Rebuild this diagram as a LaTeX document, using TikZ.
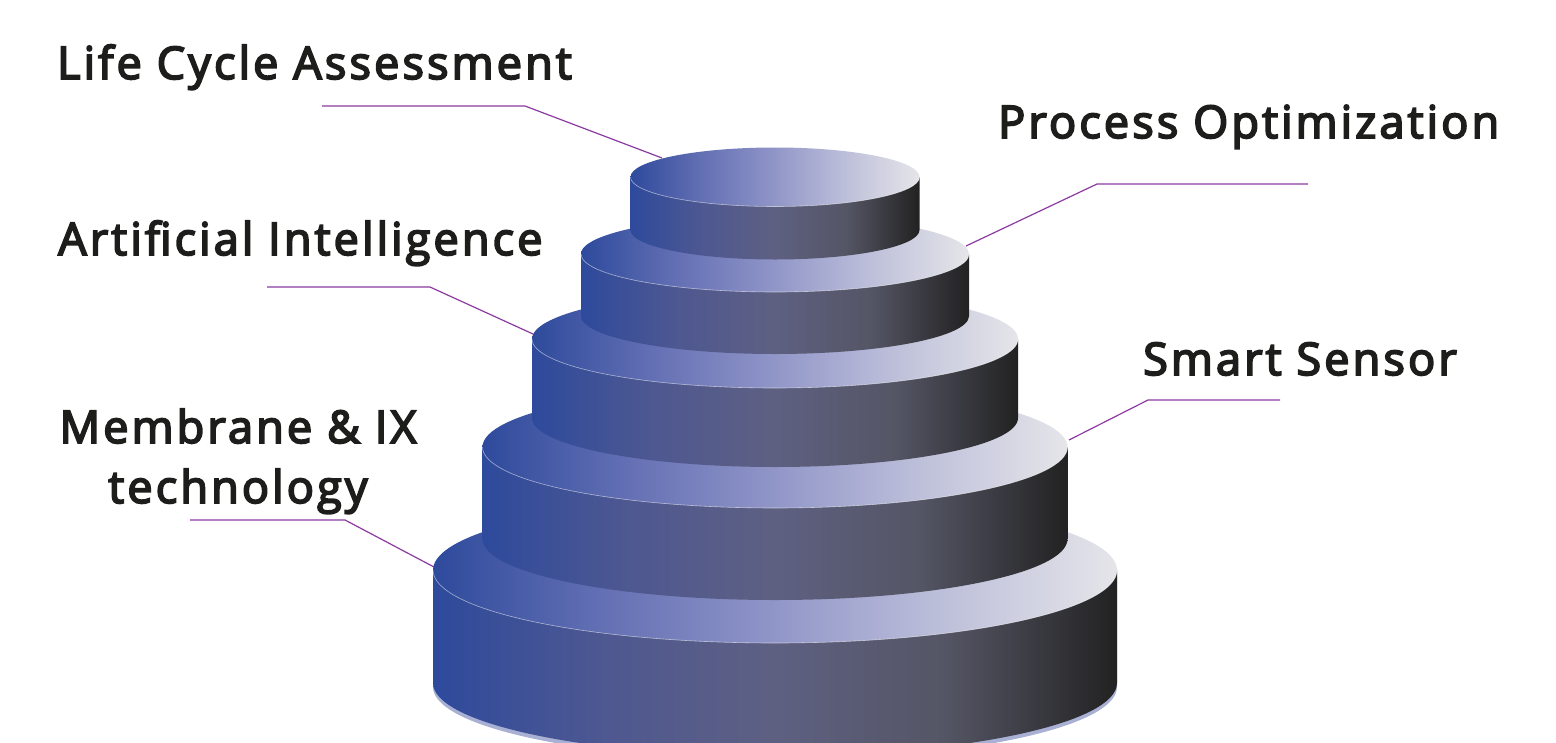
\documentclass[tikz,border=0pt]{standalone}
\usepackage{fontspec}
\newfontfamily\labelfont{Open Sans}[FakeBold=4, LetterSpace=7]
\usepackage{tikz}

\definecolor{tierblue}{RGB}{46,74,156}
\definecolor{sideA}{RGB}{78,88,145}
\definecolor{sideB}{RGB}{94,96,130}
\definecolor{sideC}{RGB}{84,85,100}
\definecolor{sideD}{RGB}{34,34,34}
\definecolor{capA}{RGB}{100,112,180}
\definecolor{capB}{RGB}{145,150,200}
\definecolor{capC}{RGB}{190,192,218}
\definecolor{capD}{RGB}{229,229,233}
\definecolor{leadercol}{RGB}{139,58,160}
\definecolor{labelcol}{RGB}{29,29,27}
\definecolor{rimcol}{RGB}{168,176,212}

\pgfdeclarehorizontalshading{tierside}{100bp}{color(0bp)=(tierblue); color(25bp)=(tierblue);
  color(37.5bp)=(sideA); color(50bp)=(sideB); color(62.5bp)=(sideC); color(75bp)=(sideD); color(100bp)=(sideD)}
\pgfdeclarehorizontalshading{tiertop}{100bp}{color(0bp)=(tierblue); color(25bp)=(tierblue);
  color(37.5bp)=(capA); color(50bp)=(capB); color(62.5bp)=(capC); color(75bp)=(capD); color(100bp)=(capD)}

\tikzset{
  lbl/.style={font=\labelfont\fontsize{45}{54}\selectfont, text=labelcol, inner sep=0pt},
  leader/.style={draw=leadercol, line width=1.2pt},
  rimline/.style={draw=white, draw opacity=.55, line width=.6pt}
}

\begin{document}
\begin{tikzpicture}[x=1pt, y=-1pt]
  \useasboundingbox (0,0) rectangle (1556,742);

  \node[lbl, anchor=base west] (lca) at (57,79) {Life Cycle Assessment};
  \node[lbl, anchor=base west] (procopt) at (998,138) {Process Optimization};
  \node[lbl, anchor=base west] (ai) at (58,255) {Artificial Intelligence};
  \node[lbl, anchor=base west] (sensor) at (1143,375) {Smart Sensor};
  \node[lbl, anchor=base] (membrane) at (238,443) {Membrane \& IX};
  \node[lbl, anchor=base] (tech) at (238,503) {technology};

  \coordinate (lca-s) at (322,106);
  \coordinate (lca-k) at (525,106);
  \coordinate (lca-e) at (662,158);
  \coordinate (po-s) at (1308,184);
  \coordinate (po-k) at (1097,184);
  \coordinate (po-e) at (966,246);
  \coordinate (ai-s) at (267,287);
  \coordinate (ai-k) at (430,287);
  \coordinate (ai-e) at (533,334);
  \coordinate (ss-s) at (1280,400);
  \coordinate (ss-k) at (1148,400);
  \coordinate (ss-e) at (1069,440);
  \coordinate (mem-s) at (190,520);
  \coordinate (mem-k) at (345,520);
  \coordinate (mem-e) at (434,567);

  \draw[leader] (lca-s) -- (lca-k) -- (lca-e);
  \draw[leader] (po-s) -- (po-k) -- (po-e);
  \draw[leader] (ai-s) -- (ai-k) -- (ai-e);
  \draw[leader] (ss-s) -- (ss-k) -- (ss-e);
  \draw[leader] (mem-s) -- (mem-k) -- (mem-e);

  \fill[rimcol] (433,574) -- ++(0,113) arc[start angle=180, end angle=0, x radius=342, y radius=73] -- (1117,574) -- cycle;

  \foreach \a/\yc/\b/\h in {342/570/73/113, 292.5/447/61/92, 243/339/49/79, 194/254/38/62, 144.5/177/29.5/53} {
    \shade[shading=tierside] ({775-\a},\yc) -- ++(0,\h) arc[start angle=180, end angle=0, x radius=\a, y radius=\b] -- ({775+\a},\yc) -- cycle;
    \shade[shading=tiertop] (775,\yc) ellipse[x radius=\a, y radius=\b];
    \draw[rimline] ({775-\a},\yc) arc[start angle=180, end angle=0, x radius=\a, y radius=\b];
  }
\end{tikzpicture}
\end{document}
